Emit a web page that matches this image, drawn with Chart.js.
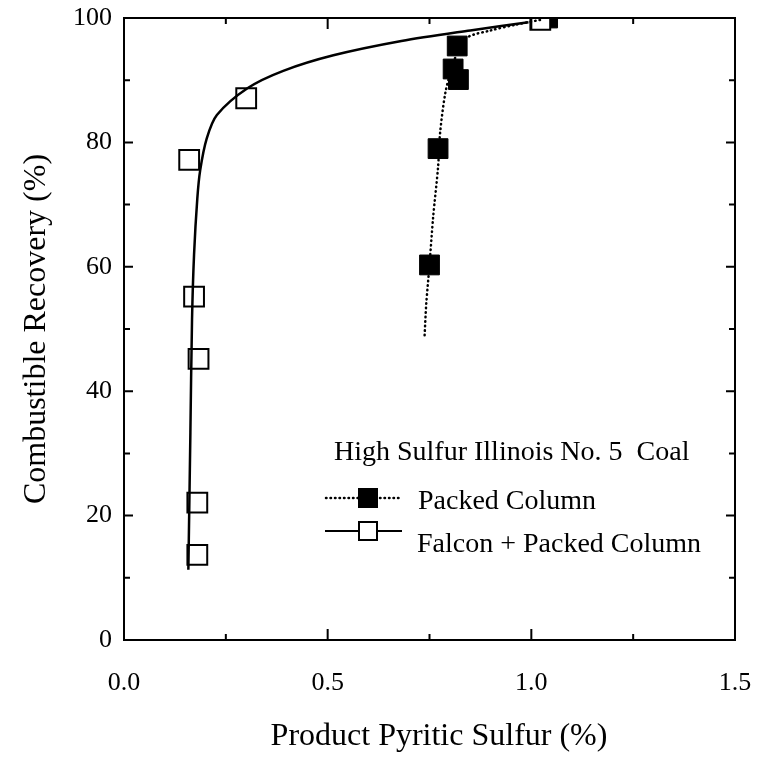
<!DOCTYPE html>
<html>
<head>
<meta charset="utf-8">
<script src="https://cdn.jsdelivr.net/npm/chart.js@4.4.1/dist/chart.umd.min.js"></script>
<style>
  html, body { margin: 0; padding: 0; background: #fff; }
  #wrap { width: 759px; height: 757px; }
</style>
</head>
<body>
<div id="wrap"><canvas id="grafico" width="759" height="757"></canvas></div>
<script>
// pontos medidos - Packed Column (quadrado cheio)
const packedX = [0.750, 0.771, 0.821, 0.808, 0.818, 1.040];
const packedY = [60.3, 79.0, 90.1, 91.8, 95.5, 100.0];
// pontos medidos - Falcon + Packed Column (quadrado vazio)
const falconX = [0.180, 0.180, 0.183, 0.172, 0.160, 0.300, 1.022];
const falconY = [13.7, 22.1, 45.2, 55.2, 77.2, 87.1, 99.7];
// curvas ajustadas
const curvaPackedX = [0.738, 0.742, 0.750, 0.759, 0.771, 0.776, 0.789, 0.805, 0.822, 0.843, 0.900, 0.960, 1.030];
const curvaPackedY = [49.0, 54.0, 60.3, 68.0, 76.0, 81.5, 88.0, 92.0, 95.0, 96.9, 98.0, 98.9, 99.8];
const curvaFalconX = [0.158, 0.163, 0.167, 0.172, 0.180, 0.187, 0.203, 0.228, 0.303, 0.391, 0.514, 0.681, 0.850, 0.993];
const curvaFalconY = [11.3, 33.4, 51.5, 62.0, 71.0, 75.5, 80.6, 84.4, 88.7, 91.5, 94.0, 96.3, 98.0, 99.3];
// eixos
const xTicks = [0, 0.5, 1.0, 1.5];
const xMinor = [0.25, 0.75, 1.25];
const yTicks = [0, 20, 40, 60, 80, 100];
const yMinor = [10, 30, 50, 70, 90];
const tituloX = 'Product Pyritic Sulfur (%)';
const tituloY = 'Combustible Recovery (%)';

const fonte = '"Liberation Serif", "Times New Roman", serif';

function pares(xs, ys) {
    return xs.map((x, i) => ({ x: x, y: ys[i] }));
}

// moldura e marcas de escala para dentro
const molduraPlugin = {
    id: 'moldura',
    afterDraw(chart) {
        const ctx = chart.ctx;
        const a = chart.chartArea;
        const sx = chart.scales.x;
        const sy = chart.scales.y;
        ctx.save();
        ctx.strokeStyle = '#000';
        ctx.lineWidth = 2;
        ctx.strokeRect(a.left, a.top, a.right - a.left, a.bottom - a.top);
        const marca = (vals, len) => {
            vals.forEach(v => {
                const px = sx.getPixelForValue(v);
                ctx.beginPath();
                ctx.moveTo(px, a.bottom); ctx.lineTo(px, a.bottom - len);
                ctx.moveTo(px, a.top); ctx.lineTo(px, a.top + len);
                ctx.stroke();
            });
        };
        const marcaY = (vals, len) => {
            vals.forEach(v => {
                const py = sy.getPixelForValue(v);
                ctx.beginPath();
                ctx.moveTo(a.left, py); ctx.lineTo(a.left + len, py);
                ctx.moveTo(a.right, py); ctx.lineTo(a.right - len, py);
                ctx.stroke();
            });
        };
        marca(xTicks, 11);
        marca(xMinor, 6);
        marcaY(yTicks, 9);
        marcaY(yMinor, 6);

        // titulo do eixo x (um pouco deslocado para a direita, como no original)
        ctx.fillStyle = '#000';
        ctx.textBaseline = 'middle';
        ctx.textAlign = 'center';
        ctx.font = '32px ' + fonte;
        ctx.fillText(tituloX, 439, 737);

        // legenda desenhada dentro do grafico
        ctx.font = '28px ' + fonte;
        ctx.textAlign = 'left';
        ctx.fillText('High Sulfur Illinois No. 5  Coal', 334, 453);
        ctx.fillText('Packed Column', 418, 502);
        ctx.fillText('Falcon + Packed Column', 417, 545);

        ctx.lineWidth = 2.5;
        ctx.lineCap = 'round';
        ctx.setLineDash([0.5, 4]);
        ctx.beginPath();
        ctx.moveTo(326, 498); ctx.lineTo(400, 498);
        ctx.stroke();
        ctx.setLineDash([]);
        ctx.lineCap = 'butt';
        ctx.fillRect(358, 488, 20, 20);

        ctx.lineWidth = 2;
        ctx.beginPath();
        ctx.moveTo(325, 531); ctx.lineTo(402, 531);
        ctx.stroke();
        ctx.fillStyle = '#fff';
        ctx.fillRect(359, 522, 18, 18);
        ctx.strokeRect(359, 522, 18, 18);
        ctx.restore();
    }
};

new Chart(document.getElementById('grafico').getContext('2d'), {
    type: 'scatter',
    data: {
        datasets: [
            {
                label: 'Packed Column (curva)',
                type: 'line',
                data: pares(curvaPackedX, curvaPackedY),
                borderColor: '#000',
                borderWidth: 2.5,
                borderDash: [0.5, 4],
                borderCapStyle: 'round',
                pointRadius: 0,
                tension: 0.3,
                fill: false,
                order: 0
            },
            {
                label: 'Falcon + Packed Column (curva)',
                type: 'line',
                data: pares(curvaFalconX, curvaFalconY),
                borderColor: '#000',
                borderWidth: 2.5,
                pointRadius: 0,
                tension: 0.3,
                fill: false,
                order: 1
            },
            {
                label: 'Falcon + Packed Column',
                data: pares(falconX, falconY),
                pointStyle: 'rect',
                pointRadius: 14,
                pointBackgroundColor: '#fff',
                pointBorderColor: '#000',
                pointBorderWidth: 2,
                order: 2
            },
            {
                label: 'Packed Column',
                data: pares(packedX, packedY),
                pointStyle: 'rect',
                pointRadius: 14,
                pointBackgroundColor: '#000',
                pointBorderColor: '#000',
                pointBorderWidth: 1,
                order: 3
            }
        ]
    },
    options: {
        responsive: false,
        animation: false,
        events: [],
        layout: { padding: { left: 0, right: 24, top: 18, bottom: 0 } },
        plugins: {
            legend: { display: false },
            tooltip: { enabled: false }
        },
        scales: {
            x: {
                type: 'linear',
                min: 0,
                max: 1.5,
                afterBuildTicks(scale) { scale.ticks = xTicks.map(v => ({ value: v })); },
                afterFit(scale) {
                    scale.height = 117;
                    scale.paddingLeft = 0;
                    scale.paddingRight = 0;
                },
                grid: { display: false, drawTicks: false },
                border: { display: false },
                ticks: {
                    color: '#000',
                    padding: 28,
                    maxRotation: 0,
                    font: { family: fonte, size: 26 },
                    callback: v => v.toFixed(1)
                },
                title: { display: false }
            },
            y: {
                type: 'linear',
                min: 0,
                max: 100,
                afterBuildTicks(scale) { scale.ticks = yTicks.map(v => ({ value: v })); },
                afterFit(scale) {
                    scale.width = 124;
                    scale.paddingTop = 0;
                    scale.paddingBottom = 0;
                },
                grid: { display: false, drawTicks: false },
                border: { display: false },
                ticks: {
                    color: '#000',
                    padding: 12,
                    font: { family: fonte, size: 26 },
                    callback: v => String(v)
                },
                title: {
                    display: true,
                    text: tituloY,
                    color: '#000',
                    font: { family: fonte, size: 32 },
                    padding: { top: 17, bottom: 0 }
                }
            }
        }
    },
    plugins: [molduraPlugin]
});
</script>
</body>
</html>
